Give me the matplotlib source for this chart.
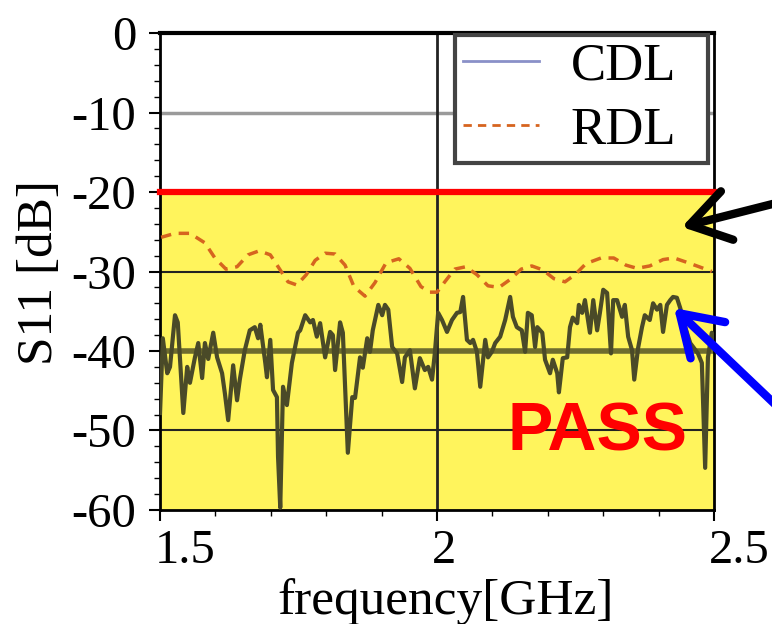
import matplotlib
matplotlib.use("Agg")
import matplotlib.pyplot as plt
import matplotlib.transforms as mtransforms
from matplotlib.lines import Line2D

plt.rcParams['font.family'] = ['Liberation Serif', 'DejaVu Serif']

# CDL measured S11 (GHz, dB)
cdl_freq = [1.500, 1.505, 1.513, 1.518, 1.527, 1.532, 1.542, 1.549, 1.554, 1.563,
            1.569, 1.576, 1.581, 1.587, 1.596, 1.603, 1.612, 1.617, 1.623, 1.632,
            1.639, 1.644, 1.653, 1.662, 1.671, 1.677, 1.681, 1.690, 1.693, 1.699,
            1.704, 1.711, 1.713, 1.717, 1.722, 1.729, 1.738, 1.749, 1.753, 1.762,
            1.771, 1.776, 1.783, 1.789, 1.798, 1.807, 1.812, 1.816, 1.825, 1.830,
            1.839, 1.847, 1.852, 1.861, 1.866, 1.874, 1.879, 1.884, 1.894, 1.901,
            1.906, 1.912, 1.919, 1.928, 1.937, 1.942, 1.951, 1.960, 1.969, 1.978,
            1.984, 1.991, 1.996, 2.002, 2.009, 2.018, 2.027, 2.036, 2.042, 2.047,
            2.054, 2.060, 2.065, 2.072, 2.078, 2.087, 2.092, 2.099, 2.105, 2.114,
            2.123, 2.132, 2.137, 2.144, 2.153, 2.159, 2.164, 2.171, 2.177, 2.181,
            2.190, 2.195, 2.204, 2.209, 2.217, 2.220, 2.227, 2.235, 2.240, 2.245,
            2.253, 2.256, 2.262, 2.267, 2.276, 2.282, 2.289, 2.294, 2.300, 2.307,
            2.314, 2.318, 2.325, 2.334, 2.339, 2.345, 2.352, 2.356, 2.363, 2.370,
            2.375, 2.384, 2.390, 2.397, 2.403, 2.408, 2.415, 2.421, 2.426, 2.433,
            2.439, 2.448, 2.457, 2.471, 2.478, 2.484, 2.489, 2.496, 2.500]
cdl_db = [-47.8, -38.4, -42.8, -42.0, -35.5, -36.4, -47.8, -42.0, -44.0, -40.8,
          -39.0, -43.4, -39.0, -41.0, -37.7, -40.8, -42.8, -45.3, -48.7, -41.8,
          -46.2, -43.6, -39.9, -37.4, -37.0, -38.4, -36.7, -41.5, -43.3, -38.6,
          -44.9, -45.8, -53.3, -59.7, -44.5, -46.8, -41.5, -37.7, -37.4, -35.5,
          -36.4, -36.1, -38.2, -36.5, -40.8, -37.6, -38.0, -42.4, -36.4, -37.7,
          -52.8, -45.8, -45.9, -40.8, -42.1, -38.4, -40.1, -37.4, -34.2, -35.5,
          -34.2, -34.8, -39.5, -40.3, -43.9, -40.8, -39.9, -44.7, -40.9, -42.4,
          -42.0, -43.6, -40.3, -35.2, -36.1, -37.6, -36.1, -35.2, -35.1, -33.2,
          -38.6, -39.0, -38.6, -40.1, -44.5, -38.6, -40.8, -40.1, -39.0, -38.2,
          -36.1, -33.2, -35.7, -37.0, -37.4, -40.1, -35.2, -35.5, -39.5, -37.0,
          -37.7, -41.1, -42.8, -41.1, -42.8, -45.2, -40.9, -40.8, -37.0, -35.8,
          -36.5, -34.2, -35.2, -33.6, -37.7, -33.6, -37.4, -35.2, -32.3, -32.7,
          -40.3, -33.6, -33.6, -35.7, -34.2, -38.2, -39.9, -43.6, -39.6, -37.0,
          -35.5, -36.1, -34.0, -34.8, -34.2, -37.6, -34.2, -33.6, -33.2, -33.3,
          -34.6, -37.0, -39.0, -40.3, -41.5, -54.7, -40.8, -37.7, -38.6]

# RDL simulated S11 (GHz, dB)
rdl_freq = [1.502, 1.527, 1.554, 1.581, 1.599, 1.619, 1.639, 1.659, 1.679, 1.699,
            1.715, 1.731, 1.747, 1.764, 1.780, 1.798, 1.816, 1.834, 1.850, 1.870,
            1.888, 1.908, 1.931, 1.951, 1.971, 1.987, 2.000, 2.014, 2.032, 2.052,
            2.072, 2.092, 2.112, 2.132, 2.152, 2.171, 2.191, 2.211, 2.231, 2.249,
            2.269, 2.296, 2.319, 2.341, 2.361, 2.384, 2.408, 2.428, 2.449, 2.473,
            2.496]
rdl_db = [-25.7, -25.2, -25.2, -26.4, -28.3, -29.7, -29.4, -27.9, -27.4, -27.9,
          -29.6, -31.3, -31.7, -30.4, -28.6, -27.7, -27.8, -29.2, -31.9, -33.1,
          -31.4, -28.9, -28.4, -29.6, -31.9, -32.6, -32.6, -31.3, -29.7, -29.4,
          -30.4, -31.8, -32.0, -31.0, -29.7, -29.3, -29.8, -30.9, -31.3, -30.4,
          -29.0, -28.3, -28.3, -29.2, -29.6, -29.3, -28.5, -28.3, -28.8, -29.4,
          -30.0]

limit_db = -20
x_ticks = [1.5, 2.0, 2.5]
x_labels = ['1.5', '2', '2.5']
y_ticks = [0, -10, -20, -30, -40, -50, -60]
y_labels = ['0', '-10', '-20', '-30', '-40', '-50', '-60']

fig = plt.figure(figsize=(7.72, 6.24), dpi=100)
ax = fig.add_axes([0.2073, 0.1827, 0.7176, 0.7644])

ax.axhspan(-60, limit_db, color='#fff45c', zorder=0)
ax.axhline(-10, color='#9a9a9a', lw=2.5, zorder=1)
ax.axhline(-30, color='#222222', lw=1.5, zorder=1)
ax.axhline(-40, color='#6e6c2e', lw=4, zorder=1)
ax.axhline(-50, color='#222222', lw=1.5, zorder=1)
ax.axvline(2.0, color='#222222', lw=2, zorder=1)

ax.plot(cdl_freq, cdl_db, color='#4a4a28', lw=3, zorder=3)
ax.plot(rdl_freq, rdl_db, color='#d6641f', lw=2.5, linestyle=(0, (3, 2.2)), zorder=3)
ax.axhline(limit_db, color='#ff0000', lw=4.5, zorder=4, clip_on=False)

ax.set_xlim(1.5, 2.5)
ax.set_ylim(-60, 0)
ax.set_xticks(x_ticks)
ax.set_xticklabels(x_labels)
ax.set_yticks(y_ticks)
ax.set_yticklabels(y_labels)
ax.set_xticks([1.6, 1.7, 1.8, 1.9, 2.1, 2.2, 2.3, 2.4], minor=True)
ax.set_yticks(range(-58, 0, 2), minor=True)
ax.tick_params(which='major', length=8, width=1.5, labelsize=35, pad=6)
ax.tick_params(axis='y', which='major', pad=9)
ax.tick_params(which='minor', length=4, width=1)
for sp in ax.spines.values():
    sp.set_linewidth(2)
ax.spines['top'].set_linewidth(3)

# x tick labels sit just right of their ticks in the original
shift = mtransforms.ScaledTranslation(-0.05, 0, fig.dpi_scale_trans)
for lab in ax.get_xticklabels():
    lab.set_horizontalalignment('left')
    lab.set_transform(lab.get_transform() + shift)

ax.set_xlabel('frequency[GHz]', fontsize=37)
ax.set_ylabel('S11 [dB]', fontsize=37)
ax.xaxis.set_label_coords(0.516, -0.142)
ax.yaxis.set_label_coords(-0.175, 0.497)

handles = [Line2D([], [], color='#8a90c8', lw=2),
           Line2D([], [], color='#d6641f', lw=2, linestyle=(0, (3, 2.2)))]
leg = ax.legend(handles, ['CDL', 'RDL'], loc='upper left',
                bbox_to_anchor=(0.532, 0.734, 0.457, 0.262), mode='expand',
                fontsize=38, fancybox=False, framealpha=1, edgecolor='#444444',
                borderpad=0.15, labelspacing=0.3, handlelength=1.45, handletextpad=0.6,
                borderaxespad=0)
leg.get_frame().set_linewidth(3)
leg.set_zorder(6)

ax.text(2.289, -50.3, 'PASS', color='#ff0000', fontsize=49, fontweight='bold',
        family=['Liberation Sans', 'DejaVu Sans'], ha='center', va='center', zorder=5)

ax.annotate('', xy=(2.442, -24.4), xytext=(1.01, 0.676), textcoords='figure fraction',
            arrowprops=dict(arrowstyle='->,head_length=0.7,head_width=0.45', lw=6,
                            color='black', mutation_scale=40, shrinkA=0, shrinkB=0),
            annotation_clip=False, zorder=7)
ax.annotate('', xy=(2.428, -34.6), xytext=(1.01, 0.345), textcoords='figure fraction',
            arrowprops=dict(arrowstyle='->,head_length=0.7,head_width=0.45', lw=6,
                            color='#0000ff', mutation_scale=40, shrinkA=0, shrinkB=0),
            annotation_clip=False, zorder=7)

plt.savefig('out.png', dpi=100)
